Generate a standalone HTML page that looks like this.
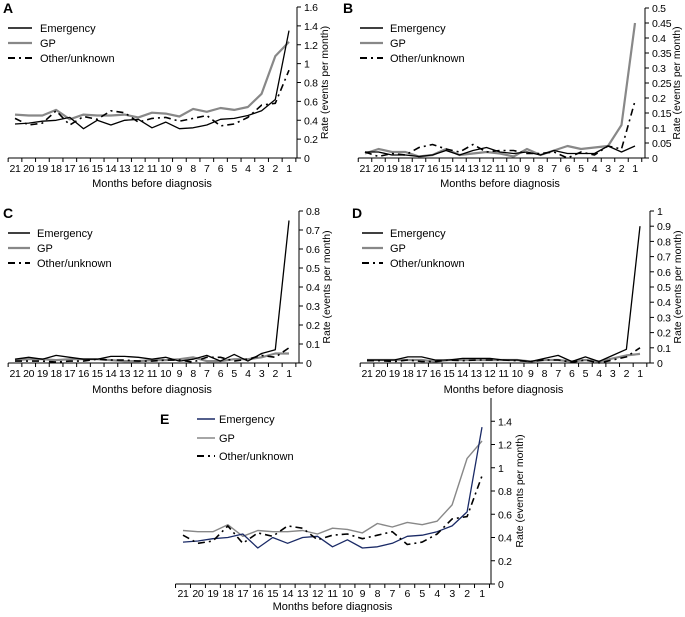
<!DOCTYPE html>
<html><head><meta charset="utf-8"><style>
body{margin:0;background:#fff;width:685px;height:612px;overflow:hidden}
svg{font-family:"Liberation Sans",Arial,sans-serif}
</style></head><body>
<svg id="c" width="685" height="612"></svg>
<script>
const months=["21","20","19","18","17","16","15","14","13","12","11","10","9","8","7","6","5","4","3","2","1"];
const aEmergency=[0.36,0.37,0.39,0.40,0.43,0.31,0.40,0.35,0.40,0.41,0.32,0.38,0.31,0.32,0.35,0.41,0.42,0.45,0.50,0.62,1.35];
const aGP=[0.46,0.45,0.45,0.51,0.41,0.46,0.45,0.45,0.46,0.43,0.48,0.47,0.44,0.52,0.49,0.53,0.51,0.54,0.68,1.08,1.23];
const aOther=[0.42,0.35,0.37,0.50,0.35,0.44,0.41,0.50,0.48,0.38,0.42,0.43,0.39,0.42,0.45,0.34,0.36,0.43,0.56,0.58,0.93];
const bEmergency=[0.02,0.02,0.01,0.01,0.005,0.01,0.025,0.01,0.025,0.035,0.02,0.015,0.02,0.01,0.025,0.015,0.015,0.015,0.04,0.02,0.04];
const bGP=[0.015,0.03,0.02,0.02,0.005,0.01,0.03,0.01,0.015,0.02,0.015,0.005,0.03,0.01,0.025,0.04,0.03,0.035,0.04,0.11,0.45];
const bOther=[0.02,0.005,0.015,0.01,0.035,0.045,0.03,0.02,0.045,0.02,0.025,0.025,0.015,0.015,0.02,0.0,0.02,0.01,0.04,0.03,0.19];
const cEmergency=[0.02,0.03,0.02,0.04,0.03,0.02,0.02,0.035,0.035,0.03,0.02,0.03,0.01,0.02,0.04,0.01,0.045,0.01,0.05,0.07,0.75];
const cGP=[0.015,0.02,0.02,0.015,0.02,0.02,0.02,0.015,0.01,0.01,0.015,0.015,0.02,0.03,0.01,0.01,0.02,0.02,0.03,0.05,0.05];
const cOther=[0.01,0.01,0.01,0.005,0.01,0.01,0.02,0.015,0.015,0.01,0.01,0.015,0.015,0.005,0.03,0.03,0.01,0.02,0.04,0.03,0.08];
const dEmergency=[0.02,0.02,0.02,0.04,0.04,0.02,0.02,0.03,0.03,0.03,0.02,0.02,0.01,0.03,0.05,0.01,0.04,0.01,0.05,0.09,0.9];
const dGP=[0.02,0.02,0.02,0.02,0.02,0.01,0.02,0.02,0.02,0.02,0.02,0.02,0.01,0.02,0.02,0.01,0.02,0.01,0.03,0.05,0.06];
const dOther=[0.015,0.015,0.01,0.02,0.01,0.01,0.02,0.015,0.02,0.02,0.02,0.015,0.01,0.02,0.02,0.005,0.02,0.0,0.02,0.04,0.1];
const aTicks=["0","0.2","0.4","0.6","0.8","1","1.2","1.4","1.6"];
const bTicks=["0","0.05","0.1","0.15","0.2","0.25","0.3","0.35","0.4","0.45","0.5"];
const cTicks=["0","0.1","0.2","0.3","0.4","0.5","0.6","0.7","0.8"];
const dTicks=["0","0.1","0.2","0.3","0.4","0.5","0.6","0.7","0.8","0.9","1"];
const eTicks=["0","0.2","0.4","0.6","0.8","1","1.2","1.4"];

const NS="http://www.w3.org/2000/svg";
const svg=document.getElementById('c');
function mk(tag,attrs,parent,text){const e=document.createElementNS(NS,tag);for(const k in attrs)e.setAttribute(k,attrs[k]);if(text!=null)e.textContent=text;(parent||svg).appendChild(e);return e;}

const panels=[
 {id:'a',label:'A',lx:3,ly:13,x21:15,x1:289,axis:297,y0:158,ymax:1.6,yTop:7,ticks:aTicks,tickStep:0.2,labY:172,titY:187,tOff:31,leg:{x1:8,x2:32,tx:40,ys:[28,43,58]},
  s:[aEmergency,aGP,aOther],emColor:'#000',gpW:2.2},
 {id:'b',label:'B',lx:343,ly:13,x21:365,x1:635,axis:645,y0:158,ymax:0.5,yTop:8,ticks:bTicks,tickStep:0.05,labY:172,titY:187,tOff:35,leg:{x1:360,x2:383,tx:390,ys:[28,43,58]},
  s:[bEmergency,bGP,bOther],emColor:'#000',gpW:2.2},
 {id:'c',label:'C',lx:3,ly:218,x21:15,x1:289,axis:299,y0:363,ymax:0.8,yTop:211,ticks:cTicks,tickStep:0.1,labY:377,titY:393,tOff:31,leg:{x1:8,x2:30,tx:37,ys:[233,248,263]},
  s:[cEmergency,cGP,cOther],emColor:'#000',gpW:2.2},
 {id:'d',label:'D',lx:352,ly:218,x21:367,x1:640,axis:650,y0:363,ymax:1.0,yTop:211,ticks:dTicks,tickStep:0.1,labY:377,titY:393,tOff:31,leg:{x1:362,x2:383,tx:390,ys:[233,248,263]},
  s:[dEmergency,dGP,dOther],emColor:'#000',gpW:2.2},
 {id:'e',label:'E',lx:160,ly:424,x21:183,x1:482,axis:491,y0:584,ymax:1.6,yTop:398,ticks:eTicks,tickStep:0.2,labY:597,titY:610,tOff:32,leg:{x1:197,x2:215,tx:219,ys:[419,438,456]},
  s:[aEmergency,aGP,aOther],emColor:'#1a2a66',gpW:1.4}
];

panels.forEach(p=>{
 const g=mk('g',{},svg);
 
 
 const step=(p.x1-p.x21)/20;
 const xs=i=>p.x21+i*step;
 const ys=v=>p.y0-(v/p.ymax)*(p.y0-p.yTop);
 const lab=mk('text',{x:p.lx,y:p.ly,'font-size':14,'font-weight':'bold'},g,p.label);
 
 
 const ya=mk('line',{x1:p.axis,y1:p.yTop,x2:p.axis,y2:p.y0,stroke:'#000','stroke-width':1},g);
 
 
 p.ticks.forEach((t,i)=>{
  const y=ys(i*p.tickStep);
  mk('line',{x1:p.axis,y1:y,x2:p.axis+4,y2:y,stroke:'#000'},g);
  const tl=mk('text',{x:p.axis+7,y:y+4,'font-size':10.5,'letter-spacing':'-0.3'},g,t);
  
  
 });
 const tcx=p.axis+p.tOff, tcy=(p.yTop+p.y0)/2;
 const yt=mk('text',{x:tcx,y:tcy,'font-size':10.5,'text-anchor':'middle',transform:`rotate(-90 ${tcx} ${tcy})`},g,'Rate (events per month)');
 
 
 const xa=mk('line',{x1:p.x21-step/2,y1:p.y0,x2:p.axis,y2:p.y0,stroke:'#000'},g);
 
 
 for(let i=0;i<=21;i++){const x=p.x21-step/2+i*step;mk('line',{x1:x,y1:p.y0,x2:x,y2:p.y0+4,stroke:'#000'},g);}
 months.forEach((m,i)=>{
  const t=mk('text',{x:xs(i),y:p.labY,'font-size':10.5,'text-anchor':'middle','letter-spacing':'-0.3'},g,m);
  
  
 });
 const xt=mk('text',{x:(p.x21+p.x1)/2,y:p.titY,'font-size':11,'text-anchor':'middle'},g,'Months before diagnosis');
 
 
 const styles=[
  {name:'emergency',stroke:p.emColor,w:1.3,dash:null,lbl:'Emergency'},
  {name:'gp',stroke:'#888',w:p.gpW,dash:null,lbl:'GP'},
  {name:'other',stroke:'#000',w:1.6,dash:'7,4,2,4',lbl:'Other/unknown'}
 ];
 [1,0,2].forEach(k=>{
  const st=styles[k];
  const pts=p.s[k].map((v,i)=>xs(i).toFixed(1)+','+ys(v).toFixed(1)).join(' ');
  const a={points:pts,fill:'none',stroke:st.stroke,'stroke-width':st.w,'stroke-linejoin':'round'};
  if(st.dash)a['stroke-dasharray']=st.dash;
  const pl=mk('polyline',a,g);
  
  
 });
 styles.forEach((st,k)=>{
  const y=p.leg.ys[k];
  const a={x1:p.leg.x1,y1:y,x2:p.leg.x2,y2:y,stroke:st.stroke,'stroke-width':k==1?p.gpW:(k==2?2:1.6)};
  if(st.dash)a['stroke-dasharray']='7,4,2,4';
  const ll=mk('line',a,g);
  
  
  const lt=mk('text',{x:p.leg.tx,y:y+4,'font-size':11},g,st.lbl);
  
  
 });
});
</script>
</body></html>
